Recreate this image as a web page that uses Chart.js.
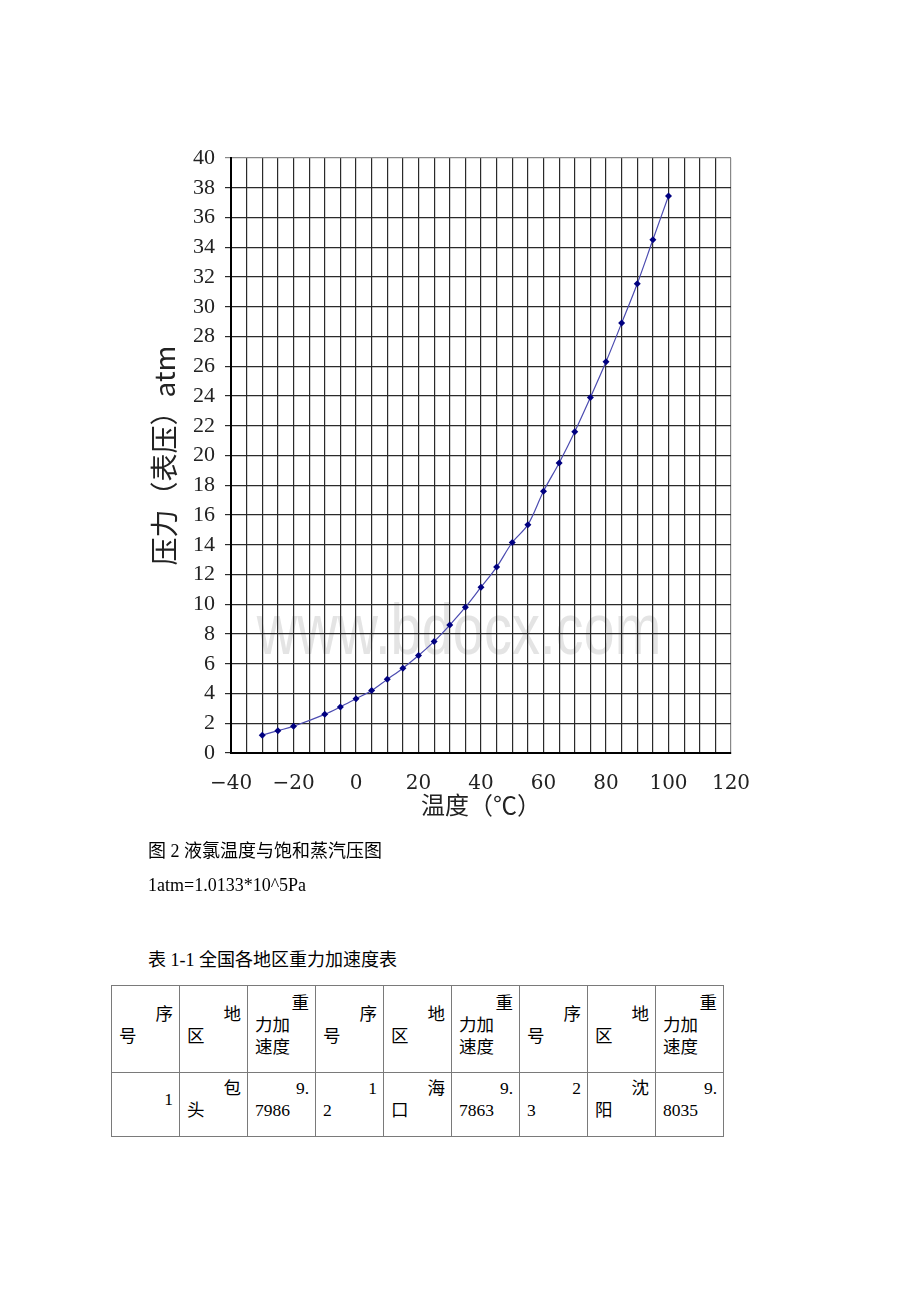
<!DOCTYPE html>
<html>
<head>
<meta charset="utf-8">
<script src="https://cdn.jsdelivr.net/npm/chart.js@4.4.1/dist/chart.umd.min.js"></script>
<style>
  html, body { margin: 0; padding: 0; background: #fff; }
  body { width: 920px; height: 1302px; position: relative; overflow: hidden;
         font-family: "Liberation Serif", "Noto Sans CJK SC", serif; color: #000; }
  #chart { position: absolute; left: 0; top: 0; }
  .txt { position: absolute; left: 148px; font-size: 18px; line-height: 24px; white-space: nowrap; }
  table { position: absolute; left: 111px; top: 985px; border-collapse: collapse; table-layout: fixed;
          font-size: 17.5px; line-height: 22px; }
  td { width: 54px; border: 1px solid #7a7a7a; padding: 0 6px 0 7px; vertical-align: middle; }
  tr.h td { height: 78px; padding-bottom: 8px; }
  tr.d td { height: 52px; padding-bottom: 11px; }
  .r { text-align: right; }
  .l { text-align: left; }
</style>
</head>
<body>
<canvas id="chart" width="920" height="840"></canvas>

<div class="txt" style="top:839px;">图 2 液氯温度与饱和蒸汽压图</div>
<div class="txt" style="top:873px;">1atm=1.0133*10^5Pa</div>
<div class="txt" style="top:948px;">表 1-1 全国各地区重力加速度表</div>

<table>
  <tr class="h">
    <td><div class="r">序</div><div class="l">号</div></td>
    <td><div class="r">地</div><div class="l">区</div></td>
    <td><div class="r">重</div><div class="l">力加</div><div class="l">速度</div></td>
    <td><div class="r">序</div><div class="l">号</div></td>
    <td><div class="r">地</div><div class="l">区</div></td>
    <td><div class="r">重</div><div class="l">力加</div><div class="l">速度</div></td>
    <td><div class="r">序</div><div class="l">号</div></td>
    <td><div class="r">地</div><div class="l">区</div></td>
    <td><div class="r">重</div><div class="l">力加</div><div class="l">速度</div></td>
  </tr>
  <tr class="d">
    <td><div class="r">1</div></td>
    <td><div class="r">包</div><div class="l">头</div></td>
    <td><div class="r">9.</div><div class="l">7986</div></td>
    <td><div class="r">1</div><div class="l">2</div></td>
    <td><div class="r">海</div><div class="l">口</div></td>
    <td><div class="r">9.</div><div class="l">7863</div></td>
    <td><div class="r">2</div><div class="l">3</div></td>
    <td><div class="r">沈</div><div class="l">阳</div></td>
    <td><div class="r">9.</div><div class="l">8035</div></td>
  </tr>
</table>

<script>
// ---- data ----
const temperatures = [-30, -25, -20, -10, -5, 0, 5, 10, 15, 20, 25, 30, 35, 40, 45, 50, 55, 60, 65, 70, 75, 80, 85, 90, 95, 100];
const pressures    = [1.2, 1.5, 1.8, 2.6, 3.1, 3.65, 4.2, 4.95, 5.7, 6.55, 7.5, 8.6, 9.8, 11.15, 12.5, 14.15, 15.35, 17.6, 19.5, 21.6, 23.9, 26.3, 28.9, 31.55, 34.5, 37.45];
const xAxisRange = [-40, 120];
const xGridStep = 5;
const xLabelStep = 20;
const yAxisRange = [0, 40];
const yGridStep = 2;
const xTitle = '温度（℃）';
const yTitle = '压力（表压）atm';
const watermarkText = 'www.bdocx.com';

const points = temperatures.map((t, i) => ({ x: t, y: pressures[i] }));

const watermark = {
  id: 'watermark',
  beforeDraw(chart) {
    const ctx = chart.ctx;
    ctx.save();
    ctx.fillStyle = '#e4e4e4';
    ctx.font = '56px "Liberation Sans", Arial, sans-serif';
    ctx.textAlign = 'center';
    ctx.textBaseline = 'alphabetic';
    ctx.translate(459, 654);
    ctx.scale(1, 1.3);
    ctx.fillText(watermarkText, 0, 0);
    ctx.restore();
  }
};

new Chart(document.getElementById('chart'), {
  type: 'line',
  data: {
    datasets: [{
      data: points,
      borderColor: '#4b4bb0',
      borderWidth: 1.2,
      tension: 0.35,
      pointStyle: 'rectRot',
      pointRadius: 3.5,
      pointBackgroundColor: '#000080',
      pointBorderColor: '#000080',
      pointBorderWidth: 0,
      fill: false
    }]
  },
  options: {
    responsive: false,
    animation: false,
    events: [],
    layout: { padding: { top: 158, right: 189, left: 0, bottom: 0 } },
    plugins: { legend: { display: false }, tooltip: { enabled: false } },
    scales: {
      x: {
        type: 'linear',
        min: xAxisRange[0], max: xAxisRange[1],
        afterFit: s => { s.height = 87; },
        afterBuildTicks: s => {
          const t = [];
          for (let v = xAxisRange[0]; v <= xAxisRange[1]; v += xGridStep) t.push({ value: v });
          s.ticks = t;
        },
        ticks: {
          autoSkip: false,
          maxRotation: 0,
          padding: 19,
          color: '#222',
          font: { family: '"DejaVu Serif", serif', size: 20 },
          callback: v => (v % xLabelStep === 0 ? String(v).replace('-', '\u2212') : '')
        },
        grid: {
          drawTicks: false,
          color: ctx => (ctx.tick && ctx.tick.value === xAxisRange[1] ? '#888' : '#2a2a2a'),
          lineWidth: 1.2
        },
        border: { display: true, color: '#000', width: 2 },
        title: {
          display: true, text: xTitle, color: '#222',
          font: { family: '"Noto Sans CJK SC", sans-serif', size: 24 },
          padding: { top: 0, bottom: 21 }
        }
      },
      y: {
        type: 'linear',
        min: yAxisRange[0], max: yAxisRange[1],
        afterFit: s => { s.width = 231; },
        ticks: {
          stepSize: yGridStep,
          autoSkip: false,
          padding: 10,
          color: '#222',
          font: { family: '"Liberation Serif", serif', size: 22 }
        },
        grid: {
          drawTicks: true,
          tickLength: 6,
          color: ctx => (ctx.tick && ctx.tick.value === yAxisRange[1] ? '#888' : '#2a2a2a'),
          lineWidth: 1.2
        },
        border: { display: true, color: '#000', width: 2 },
        title: {
          display: true, text: yTitle, color: '#222',
          font: { family: '"Noto Sans CJK SC", sans-serif', size: 28 },
          padding: { top: 148, bottom: 0 }
        }
      }
    }
  },
  plugins: [watermark]
});
</script>
</body>
</html>
